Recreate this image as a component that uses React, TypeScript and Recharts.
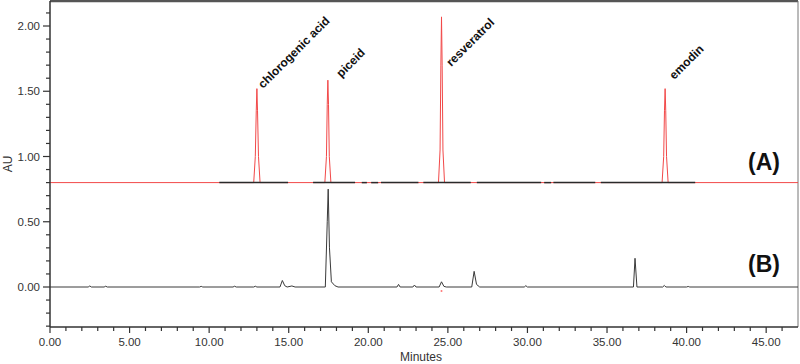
import { ComposedChart, Line, XAxis, YAxis, ReferenceLine } from "recharts";

// chromatogram (A): standard mix, baseline offset 0.80 AU
const traceA = [
  { t: 0, v: 0.8 },
  { t: 12.8, v: 0.8 },
  { t: 12.9, v: 1.0 },
  { t: 12.96, v: 1.35 },
  { t: 13.0, v: 1.52 },
  { t: 13.04, v: 1.35 },
  { t: 13.1, v: 1.0 },
  { t: 13.2, v: 0.8 },
  { t: 17.27, v: 0.8 },
  { t: 17.37, v: 1.0 },
  { t: 17.42, v: 1.4 },
  { t: 17.46, v: 1.585 },
  { t: 17.5, v: 1.4 },
  { t: 17.55, v: 1.0 },
  { t: 17.65, v: 0.8 },
  { t: 24.41, v: 0.8 },
  { t: 24.51, v: 1.05 },
  { t: 24.56, v: 1.7 },
  { t: 24.6, v: 2.07 },
  { t: 24.64, v: 1.7 },
  { t: 24.69, v: 1.05 },
  { t: 24.79, v: 0.8 },
  { t: 38.46, v: 0.8 },
  { t: 38.56, v: 1.0 },
  { t: 38.61, v: 1.35 },
  { t: 38.65, v: 1.52 },
  { t: 38.69, v: 1.35 },
  { t: 38.74, v: 1.0 },
  { t: 38.84, v: 0.8 },
  { t: 47, v: 0.8 },
];

// black integration baseline pieces drawn over trace (A), start / end in minutes
const baselineStarts = [10.64, 16.53, 19.59, 20.18, 20.8, 23.46, 26.82, 31.05, 31.63, 34.61];
const baselineEnds = [14.96, 19.17, 19.91, 20.62, 23.15, 26.44, 30.86, 31.49, 34.26, 40.54];

// chromatogram (B): sample
const traceB = [
  { t: 0, v: 0 },
  { t: 2.4, v: 0 },
  { t: 2.5, v: 0.008 },
  { t: 2.6, v: 0 },
  { t: 3.4, v: 0 },
  { t: 3.5, v: 0.006 },
  { t: 3.6, v: 0 },
  { t: 9.4, v: 0 },
  { t: 9.5, v: 0.005 },
  { t: 9.6, v: 0 },
  { t: 11.5, v: 0 },
  { t: 11.6, v: 0.006 },
  { t: 11.7, v: 0 },
  { t: 12.8, v: 0 },
  { t: 12.9, v: 0.006 },
  { t: 13.0, v: 0 },
  { t: 14.45, v: 0 },
  { t: 14.6, v: 0.05 },
  { t: 14.75, v: 0.01 },
  { t: 14.9, v: 0 },
  { t: 15.2, v: 0.008 },
  { t: 15.4, v: 0 },
  { t: 17.3, v: 0 },
  { t: 17.42, v: 0.5 },
  { t: 17.48, v: 0.75 },
  { t: 17.56, v: 0.3 },
  { t: 17.68, v: 0.04 },
  { t: 17.9, v: 0.01 },
  { t: 18.1, v: 0 },
  { t: 21.8, v: 0 },
  { t: 21.9, v: 0.02 },
  { t: 22.0, v: 0 },
  { t: 22.8, v: 0 },
  { t: 22.9, v: 0.015 },
  { t: 23.0, v: 0 },
  { t: 24.45, v: 0 },
  { t: 24.6, v: 0.04 },
  { t: 24.75, v: 0.005 },
  { t: 24.9, v: 0 },
  { t: 26.5, v: 0 },
  { t: 26.65, v: 0.12 },
  { t: 26.8, v: 0.02 },
  { t: 27.0, v: 0 },
  { t: 29.8, v: 0 },
  { t: 29.9, v: 0.01 },
  { t: 30.0, v: 0 },
  { t: 36.66, v: 0 },
  { t: 36.76, v: 0.22 },
  { t: 36.88, v: 0 },
  { t: 38.5, v: 0 },
  { t: 38.6, v: 0.012 },
  { t: 38.7, v: 0 },
  { t: 40.0, v: 0 },
  { t: 40.1, v: 0.004 },
  { t: 40.2, v: 0 },
  { t: 47, v: 0 },
];

const peakNames = ["chlorogenic acid", "piceid", "resveratrol", "emodin"];
const peakLabelT = [13.39, 18.3, 25.21, 39.23];
const peakLabelV = [1.517, 1.602, 1.686, 1.586];

const strayDot = [{ t: 24.6, v: -0.03 }];

const xTicks = [
  0, 1, 2, 3, 4, 5, 6, 7, 8, 9, 10, 11, 12, 13, 14, 15, 16, 17, 18, 19, 20, 21, 22, 23,
  24, 25, 26, 27, 28, 29, 30, 31, 32, 33, 34, 35, 36, 37, 38, 39, 40, 41, 42, 43, 44, 45, 46,
];
const yTicks = [
  -0.3, -0.2, -0.1, 0, 0.1, 0.2, 0.3, 0.4, 0.5, 0.6, 0.7, 0.8, 0.9, 1.0, 1.1, 1.2, 1.3, 1.4,
  1.5, 1.6, 1.7, 1.8, 1.9, 2.0, 2.1,
];

const FONT = "'Liberation Sans', Arial, sans-serif";
const RED = "#f24848";
const AXIS = "#333";

const isMajor = (v: number, step: number) => Math.abs(v / step - Math.round(v / step)) < 1e-6;

function XTick({ x, y, payload }: any) {
  const major = isMajor(payload.value, 5);
  return (
    <g>
      <line x1={x} x2={x} y1={y} y2={y + (major ? 6 : 4)} stroke={AXIS} strokeWidth={1.2} />
      {major && (
        <text x={x} y={y + 19} textAnchor="middle" fontSize={11.5} fontFamily={FONT} fill="#333">
          {payload.value.toFixed(2)}
        </text>
      )}
    </g>
  );
}

function YTick({ x, y, payload }: any) {
  const major = isMajor(payload.value, 0.5);
  return (
    <g>
      <line x1={x - (major ? 7 : 4)} x2={x} y1={y} y2={y} stroke={AXIS} strokeWidth={1.2} />
      {major && (
        <text x={x - 10} y={y + 4} textAnchor="end" fontSize={11.5} fontFamily={FONT} fill="#333">
          {payload.value.toFixed(2)}
        </text>
      )}
    </g>
  );
}

function PeakLabel({ cx, cy, payload }: any) {
  if (cx == null || cy == null) return null;
  return (
    <text
      key={payload.name}
      x={cx}
      y={cy}
      transform={`rotate(-45 ${cx} ${cy})`}
      fontSize={12}
      fontWeight="bold"
      fontFamily={FONT}
      fill="#111"
    >
      {payload.name}
    </text>
  );
}

export default function App() {
  const labelData = peakNames.map((name, i) => ({ name, t: peakLabelT[i], v: peakLabelV[i] }));
  const segments = baselineStarts.map((s, i) => [
    { t: s, v: 0.8 },
    { t: baselineEnds[i], v: 0.8 },
  ]);

  return (
    <div style={{ position: "absolute", left: 0, top: 0, width: 800, height: 364, background: "#fff" }}>
      <ComposedChart width={800} height={364} margin={{ top: 1, right: 2, bottom: 0, left: 0 }}>
        <XAxis
          type="number"
          dataKey="t"
          domain={[0, 47]}
          ticks={xTicks}
          interval={0}
          allowDataOverflow
          height={37}
          tickSize={0}
          tickMargin={0}
          tickLine={false}
          axisLine={{ stroke: AXIS, strokeWidth: 1.5 }}
          tick={<XTick />}
        />
        <YAxis
          type="number"
          dataKey="v"
          domain={[-0.3065, 2.1916]}
          ticks={yTicks}
          interval={0}
          allowDataOverflow
          width={50}
          tickSize={0}
          tickMargin={0}
          tickLine={false}
          axisLine={{ stroke: AXIS, strokeWidth: 1.5 }}
          tick={<YTick />}
        />
        <ReferenceLine y={2.1916} stroke="#555" strokeWidth={2.5} />
        <ReferenceLine x={47} stroke="#777" strokeWidth={1} />
        <Line
          data={traceB}
          dataKey="v"
          type="linear"
          stroke="#3a3a3a"
          strokeWidth={1}
          dot={false}
          activeDot={false}
          isAnimationActive={false}
        />
        <Line
          data={traceA}
          dataKey="v"
          type="linear"
          stroke={RED}
          strokeWidth={1}
          dot={false}
          activeDot={false}
          isAnimationActive={false}
        />
        {segments.map((seg, i) => (
          <Line
            key={`seg-${i}`}
            data={seg}
            dataKey="v"
            type="linear"
            stroke="#2a2a2a"
            strokeWidth={1.5}
            dot={false}
            activeDot={false}
            isAnimationActive={false}
          />
        ))}
        <Line
          data={strayDot}
          dataKey="v"
          stroke="none"
          dot={{ r: 1, fill: "#f77", stroke: "none" }}
          activeDot={false}
          isAnimationActive={false}
        />
        <Line
          data={labelData}
          dataKey="v"
          stroke="none"
          dot={<PeakLabel />}
          activeDot={false}
          isAnimationActive={false}
        />
      </ComposedChart>
      <svg
        width={800}
        height={364}
        style={{ position: "absolute", left: 0, top: 0, pointerEvents: "none" }}
      >
        <text x={764} y={170} textAnchor="middle" fontSize={23} fontWeight="bold" fontFamily={FONT} fill="#111">
          (A)
        </text>
        <text x={764} y={272} textAnchor="middle" fontSize={23} fontWeight="bold" fontFamily={FONT} fill="#111">
          (B)
        </text>
        <text
          x={12}
          y={164}
          transform="rotate(-90 12 164)"
          textAnchor="middle"
          fontSize={12}
          fontFamily={FONT}
          fill="#333"
        >
          AU
        </text>
        <text x={400} y={361} fontSize={12} fontFamily={FONT} fill="#333">
          Minutes
        </text>
      </svg>
    </div>
  );
}
